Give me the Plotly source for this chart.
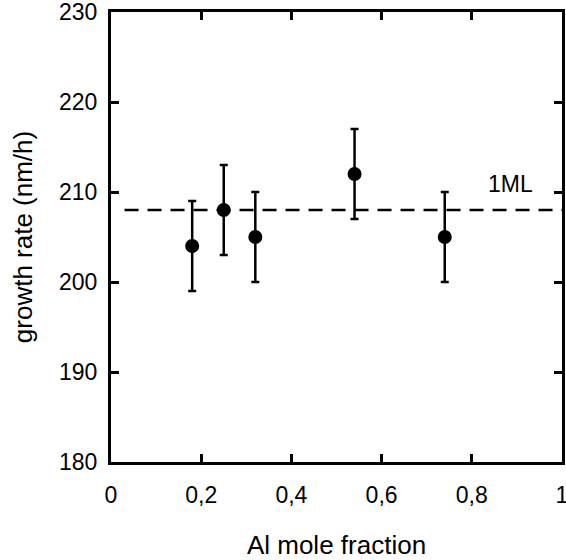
import plotly.graph_objects as go

al_fraction = [0.18, 0.25, 0.32, 0.54, 0.74]
growth_rate = [204, 208, 205, 212, 205]
growth_err = [5, 5, 5, 5, 5]
ml_rate = 208
ml_x = [0.03, 1.0]
x_ticks = [0, 0.2, 0.4, 0.6, 0.8, 1]
x_tick_text = ["0", "0,2", "0,4", "0,6", "0,8", "1"]
y_ticks = [180, 190, 200, 210, 220, 230]

FONT = "Liberation Sans, Arial, Helvetica, sans-serif"
TICK_SIZE = 23
TITLE_SIZE = 26

fig = go.Figure()
fig.add_trace(go.Scatter(
    x=ml_x, y=[ml_rate] * len(ml_x), mode="lines",
    line=dict(color="black", width=2.5, dash="14px,9px"),
    showlegend=False, hoverinfo="skip", cliponaxis=False))
fig.add_trace(go.Scatter(
    x=al_fraction, y=growth_rate, mode="markers",
    marker=dict(color="black", size=14),
    error_y=dict(type="data", array=growth_err, visible=True,
                 color="black", thickness=2.5, width=4),
    showlegend=False))

fig.add_annotation(x=0.885, y=ml_rate, text="1ML", showarrow=False,
                   xref="x", yref="y", yshift=26,
                   font=dict(family=FONT, size=TICK_SIZE, color="black"))

axis_common = dict(showline=True, linewidth=3, linecolor="black", mirror="ticks",
                   ticks="inside", ticklen=8, tickwidth=3, tickcolor="black",
                   showgrid=False, zeroline=False, ticklabeloverflow="allow",
                   tickfont=dict(family=FONT, size=TICK_SIZE, color="black"))

fig.update_xaxes(range=[0, 1], tickvals=x_ticks, ticktext=x_tick_text,
                 ticklabelstandoff=10,
                 title=dict(text="Al mole fraction",
                            font=dict(family=FONT, size=TITLE_SIZE, color="black"),
                            standoff=30),
                 **axis_common)
fig.update_yaxes(range=[180, 230], tickvals=y_ticks,
                 ticklabelstandoff=6,
                 title=dict(text="growth rate (nm/h)",
                            font=dict(family=FONT, size=TITLE_SIZE, color="black"),
                            standoff=19),
                 **axis_common)

fig.update_layout(width=566, height=560, plot_bgcolor="white", paper_bgcolor="white",
                  margin=dict(l=111, r=4, t=12, b=98, autoexpand=False),
                  font=dict(family=FONT, size=TICK_SIZE, color="black"))

fig.write_html("out.html", config={"displayModeBar": False},
               post_script="document.body.style.margin='0';")
